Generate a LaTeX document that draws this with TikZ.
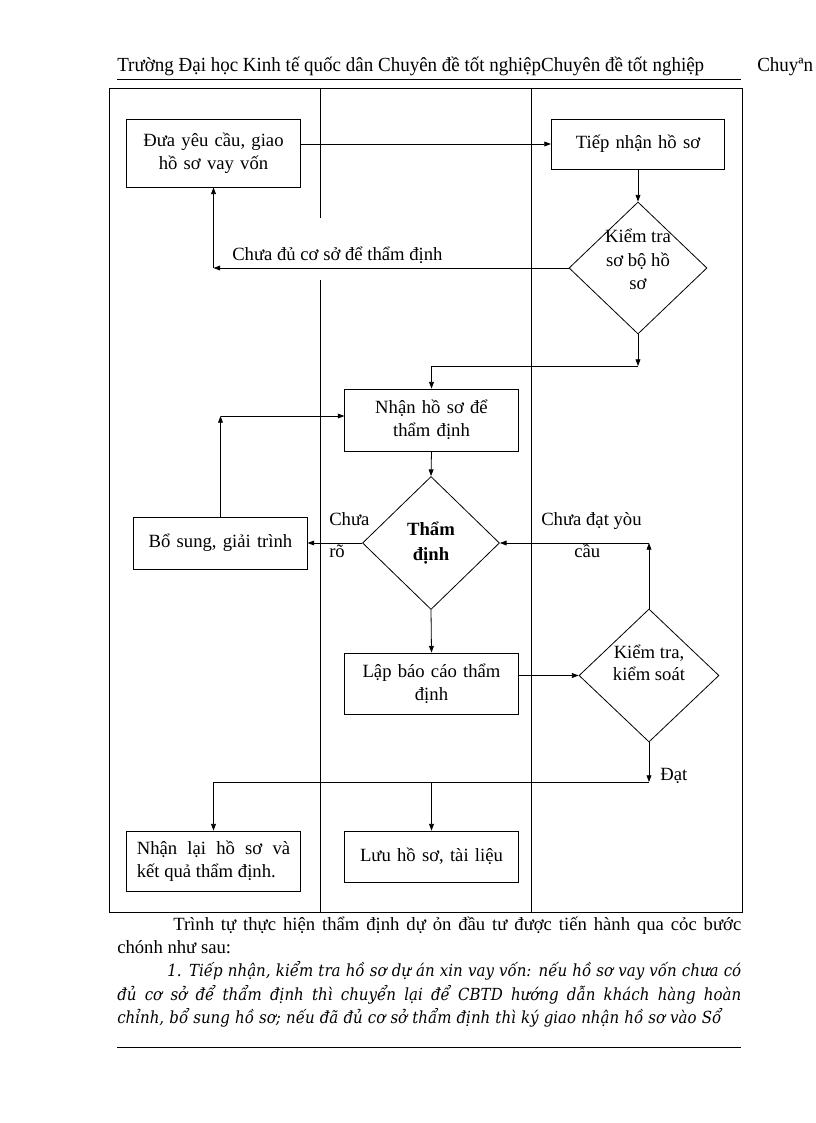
\documentclass[tikz,border=0pt]{standalone}
\usepackage{fontspec}
\setmainfont{Liberation Serif}
\newfontfamily\narrowfont[FakeStretch=0.95]{Liberation Serif}
\newfontfamily\slabfont[FakeStretch=0.9]{DejaVu Serif}
\usetikzlibrary{shapes.geometric,arrows.meta}

\begin{document}
\begin{tikzpicture}[x=0.75pt,y=-0.75pt]

\definecolor{lcolor}{HTML}{000000}

\tikzstyle{frameline}=[line width=0.6pt, color=lcolor]
\tikzstyle{stepbox}=[draw=lcolor, line width=0.6pt, rectangle, minimum width=130pt, inner sep=0pt, text width=122pt, align=center, font=\fontsize{14}{17}\selectfont]
\tikzstyle{checkbox}=[draw=lcolor, line width=0.6pt, diamond, inner sep=-8pt, align=center, font=\fontsize{14}{17.5}\selectfont]
\tikzstyle{arrow}=[line width=0.6pt, color=lcolor, -{Triangle[length=5pt,width=3.6pt]}]
\tikzstyle{flowtext}=[anchor=base west, inner sep=0pt, font=\fontsize{14}{17}\selectfont]
\tikzstyle{pagetext}=[anchor=base west, inner sep=0pt, font=\fontsize{14}{17.5}\selectfont]
\tikzstyle{itemtext}=[anchor=base west, inner sep=0pt, font=\fontsize{12.5}{17.5}\slabfont\itshape]

\fill[white] (0,0) rectangle (816,1123);
\useasboundingbox (0,0) rectangle (816,1123);

% header
\node[pagetext, font=\fontsize{15}{18}\narrowfont] (head) at (117,72) {Trường Đại học Kinh tế quốc dân Chuyên đề tốt nghiệpChuyên đề tốt nghiệp};
\node[pagetext, font=\fontsize{15}{18}\narrowfont] (headcut) at (757,72) {Chuyªn};
\draw[frameline] (117,79) -- (741,79);

% lanes
\draw[frameline] (109,88) rectangle (742,912);
\draw[frameline] (320,88) -- (320,218);
\draw[frameline] (320,280) -- (320,912);
\draw[frameline] (531,88) -- (531,912);

% steps
\node[stepbox, minimum height=51pt] (dua) at (213.5,153) {Đưa yêu cầu, giao\\hồ sơ vay vốn};
\node[stepbox, minimum height=37.5pt] (tiep) at (638,144) {Tiếp nhận hồ sơ};
\node[checkbox, minimum width=103.5pt, minimum height=99pt, text depth=13pt] (ktsb) at (638,268) {Kiểm tra\\sơ bộ hồ\\sơ};
\node[stepbox, minimum height=46.5pt] (nhan) at (431.5,420) {Nhận hồ sơ để\\thẩm định};
\node[checkbox, minimum width=102.75pt, minimum height=99.75pt, font=\fontsize{14}{18.5}\selectfont\bfseries] (tham) at (431,543) {Thẩm\\định};
\node[stepbox, minimum height=39pt] (bosung) at (220.5,543) {Bổ sung, giải trình};
\node[stepbox, minimum height=45.75pt] (lap) at (431.5,683.5) {Lập báo cáo thẩm\\định};
\node[checkbox, minimum width=105pt, minimum height=99.75pt, text depth=19pt, font=\fontsize{14}{16.5}\selectfont] (ktks) at (649,675.5) {Kiểm tra,\\kiểm soát};
\node[stepbox, minimum height=45pt, text width=115pt, align=justify] (nhanlai) at (213.5,861) {Nhận lại hồ sơ và\linebreak kết quả thẩm định.};
\node[stepbox, minimum height=38.25pt] (luu) at (431.5,856.5) {Lưu hồ sơ, tài liệu};

% labels
\node[flowtext] (chuadu) at (232,260) {Chưa đủ cơ sở để thẩm định};
\node[flowtext] (chuaro) at (329,525) {Chưa};
\node[flowtext] (ro) at (329,557) {rõ};
\node[flowtext] (chuadat) at (541,525) {Chưa đạt yòu};
\node[flowtext] (cau) at (574,557) {cầu};
\node[flowtext] (dat) at (660,780) {Đạt};

\coordinate (c1) at (dua.south |- ktsb.west);
\coordinate (c2) at (638,366);
\coordinate (c3) at (bosung.north |- 0,416);
\coordinate (c4) at (ktks.north |- tham.east);
\coordinate (c5) at (649,782);

\draw [arrow] (dua.east |- tiep.west) -- (tiep.west);
\draw [arrow] (tiep.south) -- (ktsb.north);
\draw [arrow] (ktsb.west) -- (c1);
\draw [arrow] (c1) -- (dua.south);
\draw [arrow] (ktsb.south) -- (c2);
\draw [arrow] (c2) -| (nhan.north);
\draw [arrow] (nhan.south) -- (tham.north);
\draw [arrow] (tham.west) -- (bosung.east);
\draw [arrow] (bosung.north) -- (c3);
\draw [arrow] (c3) -- (c3 -| nhan.west);
\draw [arrow] (tham.south) -- (lap.north);
\draw [arrow] (lap.east |- ktks.west) -- (ktks.west);
\draw [arrow] (ktks.north) -- (c4);
\draw [arrow] (c4) -- (tham.east);
\draw [arrow] (ktks.south) -- (c5);
\draw [arrow] (c5) -| (nhanlai.north);
\draw [arrow] (luu.north |- c5) -- (luu.north);

% text below
\node[pagetext] (p1) at (173,930) {\makebox[426pt][s]{Trình tự thực hiện thẩm định dự ỏn đầu tư được tiến hành qua cỏc bước}};
\node[pagetext] (p2) at (117,953) {chónh như sau:};
\node[itemtext] (p3) at (167,976) {\makebox[430.5pt][s]{1. Tiếp nhận, kiểm tra hồ sơ dự án xin vay vốn: nếu hồ sơ vay vốn chưa có}};
\node[itemtext] (p4) at (117,1000) {\makebox[468pt][s]{đủ cơ sở để thẩm định thì chuyển lại để CBTD hướng dẫn khách hàng hoàn}};
\node[itemtext] (p5) at (117,1023) {\makebox[453pt][s]{chỉnh, bổ sung hồ sơ; nếu đã đủ cơ sở thẩm định thì ký giao nhận hồ sơ vào Sổ}};
\draw[frameline] (117,1047) -- (741,1047);

\end{tikzpicture}
\end{document}
